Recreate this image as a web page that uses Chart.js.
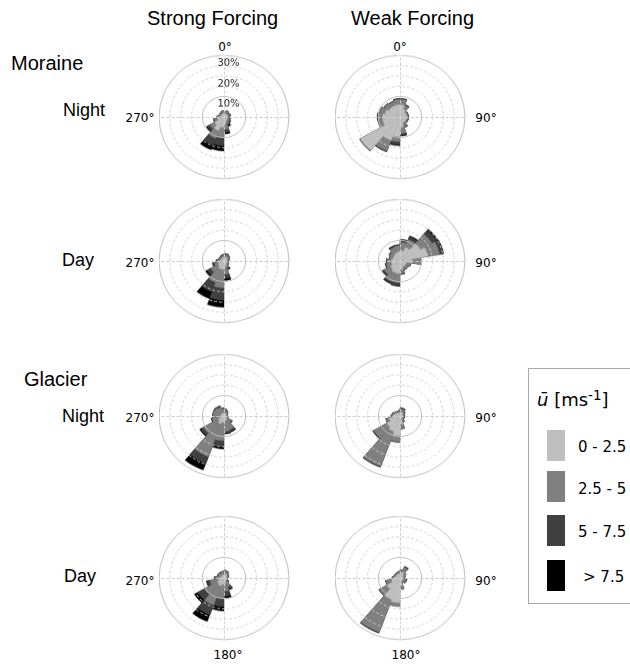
<!DOCTYPE html>
<html><head><meta charset="utf-8">
<script src="https://cdn.jsdelivr.net/npm/chart.js@4.4.0/dist/chart.umd.min.js"></script>
<style>
html,body{margin:0;padding:0;background:#fff}
body{width:630px;height:667px;position:relative;overflow:hidden;font-family:"Liberation Sans",Arial,sans-serif;color:#000}
.t{position:absolute;white-space:nowrap;line-height:1}
.deg{position:absolute;white-space:nowrap;font-family:"DejaVu Sans";font-size:12px;line-height:1;transform:translate(-50%,-50%)}
.rose{position:absolute;width:131px;height:131px;transform-origin:65px 65px;transform:scaleY(0.949)}
.rose canvas{display:block}
#legend{position:absolute;left:528px;top:368px;width:120px;height:236px;border:1px solid #aaa;box-sizing:border-box}
.sw{position:absolute;left:547px;width:18px;height:31px}
.lg{position:absolute;white-space:nowrap;font-family:"DejaVu Sans";font-size:15px;line-height:1;transform:translateY(-50%)}
</style>
</head><body>
<div class="t" style="left:147px;top:8px;font-size:20px">Strong Forcing</div>
<div class="t" style="left:351px;top:8px;font-size:20px">Weak Forcing</div>
<div class="t" style="left:11px;top:53px;font-size:20px">Moraine</div>
<div class="t" style="left:24px;top:369px;font-size:20px">Glacier</div>
<div class="t" style="left:63px;top:101px;font-size:18px">Night</div>
<div class="t" style="left:62px;top:251px;font-size:18px">Day</div>
<div class="t" style="left:62px;top:407px;font-size:18px">Night</div>
<div class="t" style="left:64px;top:567px;font-size:18px">Day</div>

<div class="rose" style="left:159px;top:52px"><canvas id="c0" width="131" height="131"></canvas></div>
<div class="rose" style="left:335px;top:52px"><canvas id="c1" width="131" height="131"></canvas></div>
<div class="rose" style="left:159px;top:196px"><canvas id="c2" width="131" height="131"></canvas></div>
<div class="rose" style="left:335px;top:196px"><canvas id="c3" width="131" height="131"></canvas></div>
<div class="rose" style="left:159px;top:351px"><canvas id="c4" width="131" height="131"></canvas></div>
<div class="rose" style="left:335px;top:351px"><canvas id="c5" width="131" height="131"></canvas></div>
<div class="rose" style="left:159px;top:513px"><canvas id="c6" width="131" height="131"></canvas></div>
<div class="rose" style="left:335px;top:513px"><canvas id="c7" width="131" height="131"></canvas></div>

<div class="deg" style="left:225px;top:47px">0°</div>
<div class="deg" style="left:400px;top:47px">0°</div>
<div class="deg" style="left:140px;top:118px">270°</div>
<div class="deg" style="left:140px;top:263px">270°</div>
<div class="deg" style="left:140px;top:418px">270°</div>
<div class="deg" style="left:140px;top:581px">270°</div>
<div class="deg" style="left:486px;top:118px">90°</div>
<div class="deg" style="left:486px;top:263px">90°</div>
<div class="deg" style="left:486px;top:418px">90°</div>
<div class="deg" style="left:486px;top:581px">90°</div>
<div class="deg" style="left:228px;top:655px">180°</div>
<div class="deg" style="left:406px;top:655px">180°</div>

<div id="legend"></div>
<div class="t" style="left:537px;top:391px;font-family:'DejaVu Sans';font-size:18px"><i>ū</i> [ms<span style="position:relative;top:-0.42em;font-size:0.75em">-1</span>]</div>
<div id="legendItems"></div>

<script>
// sector start angles (deg, clockwise from north), 20-degree bins
const sectorStarts = [0,20,40,60,80,100,120,140,160,180,200,220,240,260,280,300,320,340];
const speedClasses = ['0 - 2.5','2.5 - 5','5 - 7.5','> 7.5'];
const ringTicks = [10,20,30];

// frequency (%) per sector for each speed class
const moraineNightStrong_0 = [1.5,1.8,1.5,1.8,1.5,1.5,1.8,2.0,3.0,5.0,7.0,5.0,3.0,2.0,1.5,1.5,1.5,1.8];
const moraineNightStrong_1 = [1.0,1.2,1.0,1.0,0.8,1.0,1.2,1.5,3.0,5.0,4.0,2.5,1.5,1.0,0.8,0.8,1.0,1.0];
const moraineNightStrong_2 = [0.3,0.3,0.3,0.4,0.3,0.5,0.5,1.0,1.5,4.0,3.5,1.5,0.5,0.3,0.2,0.2,0.3,0.3];
const moraineNightStrong_3 = [0,0,0,0,0,0,0.2,0.5,0.8,2.5,2.5,0.5,0,0,0,0,0,0];

const moraineNightWeak_0 = [6.0,4.0,3.0,3.0,3.0,3.0,3.0,3.0,5.0,9.5,12.0,21.0,8.0,8.0,7.0,6.0,6.0,6.0];
const moraineNightWeak_1 = [2.5,2.0,0.8,0.8,0.8,0.8,0.8,2.0,3.0,2.5,5.5,0.5,2.0,2.0,2.5,2.5,2.0,2.5];
const moraineNightWeak_2 = [0.5,0.5,0.2,0.2,0.2,0.2,0.2,0.5,1.0,1.5,0.5,0,0.3,0.5,0.5,0.3,0.3,0.5];
const moraineNightWeak_3 = [0,0,0,0,0,0,0,0,0.3,0.5,0,0,0,0,0,0,0,0];

const moraineDayStrong_0 = [2.0,2.0,1.8,1.5,1.2,1.2,1.5,2.0,2.5,4.0,4.0,3.0,2.5,2.0,1.5,1.5,1.5,1.8];
const moraineDayStrong_1 = [1.2,1.2,1.0,0.8,0.6,0.6,0.8,1.5,4.0,9.0,7.0,4.0,2.0,1.2,1.0,0.8,1.0,1.0];
const moraineDayStrong_2 = [0.5,0.5,0.4,0.3,0.2,0.2,0.3,0.8,2.0,6.0,5.0,2.0,0.8,0.5,0.3,0.3,0.4,0.4];
const moraineDayStrong_3 = [0,0,0,0,0,0,0,0.3,1.0,3.5,3.5,1.0,0.2,0,0,0,0,0];

const moraineDayWeak_0 = [5.0,7.0,11.0,13.0,5.5,3.0,3.0,3.0,4.0,6.0,6.0,5.0,4.0,4.0,3.5,3.5,4.0,4.5];
const moraineDayWeak_1 = [4.0,4.0,6.0,5.5,4.5,2.0,1.5,1.5,2.0,4.5,4.5,3.5,2.5,2.0,1.5,2.0,3.0,3.0];
const moraineDayWeak_2 = [1.5,1.5,2.5,1.5,0,0.2,0.2,0.3,0.5,1.5,1.0,0.8,0.5,0.3,0.2,0.5,1.0,0.5];
const moraineDayWeak_3 = [0,0.5,0.8,0.5,0,0,0,0,0,0.3,0.3,0.2,0,0,0,0,0,0];

const glacierNightStrong_0 = [1.5,1.5,1.2,1.0,1.0,1.0,1.5,2.0,2.5,3.0,4.0,3.0,2.0,1.5,1.5,1.5,1.5,1.5];
const glacierNightStrong_1 = [1.5,1.2,0.8,0.6,0.6,0.8,2.5,5.0,5.0,9.0,17.0,8.0,3.5,3.5,3.5,3.5,3.0,2.0];
const glacierNightStrong_2 = [0.5,0.3,0.2,0.1,0.1,0.2,0.5,1.2,1.0,3.0,3.5,1.5,0.5,0.3,0.3,0.5,0.8,0.5];
const glacierNightStrong_3 = [0,0,0,0,0,0,0,0.3,0.3,1.0,3.5,0.5,0,0,0,0,0,0];

const glacierNightWeak_0 = [2.0,2.0,1.5,1.2,1.2,1.2,1.2,1.5,4.0,9.5,8.0,7.0,5.0,3.0,2.5,2.0,1.5,1.5];
const glacierNightWeak_1 = [1.5,1.5,1.0,0.8,0.8,0.8,0.8,1.5,2.0,3.0,18.0,7.0,1.5,1.0,1.0,0.8,0.8,1.0];
const glacierNightWeak_2 = [0.5,0.5,0.3,0.2,0.2,0.2,0.2,0.3,0.3,0.3,0.5,0.5,0.2,0.2,0.2,0.2,0.2,0.3];
const glacierNightWeak_3 = [0,0,0,0,0,0,0,0,0,0,0,0,0,0,0,0,0,0];

const glacierDayStrong_0 = [2.0,2.0,1.5,1.2,1.0,1.0,1.2,1.5,2.5,3.0,4.0,3.5,2.5,2.0,1.5,1.5,1.5,1.5];
const glacierDayStrong_1 = [1.5,1.2,1.0,0.8,0.6,0.6,1.0,3.0,4.0,7.0,10.0,7.0,4.0,2.0,1.5,1.5,1.5,1.5];
const glacierDayStrong_2 = [0.3,0.3,0.2,0.2,0.1,0.1,0.5,1.5,2.5,4.0,5.0,3.5,1.5,0.5,0.3,0.3,0.3,0.3];
const glacierDayStrong_3 = [0,0,0,0,0,0,0,0.3,1.0,2.0,3.5,1.8,0.3,0,0,0,0,0];

const glacierDayWeak_0 = [2.5,3.0,2.0,1.5,1.2,1.5,1.5,1.5,3.5,12.0,11.0,7.0,4.0,2.5,2.0,2.0,2.0,2.0];
const glacierDayWeak_1 = [1.2,2.5,1.0,0.8,0.8,1.5,1.5,1.0,1.8,1.8,17.0,4.0,2.5,1.0,0.8,0.8,0.8,1.0];
const glacierDayWeak_2 = [0.3,0.5,0.3,0.2,0.2,0.3,0.3,0.2,0.2,0,0.5,0.3,0.3,0.2,0.2,0.2,0.2,0.2];
const glacierDayWeak_3 = [0,0,0,0,0,0,0,0,0,0,0,0,0,0,0,0,0,0];

const classColors = ['#bfbfbf','#808080','#404040','#000000'];

const panels = [
  {id:'c0', cls:[moraineNightStrong_0,moraineNightStrong_1,moraineNightStrong_2,moraineNightStrong_3], pct:true},
  {id:'c1', cls:[moraineNightWeak_0,moraineNightWeak_1,moraineNightWeak_2,moraineNightWeak_3]},
  {id:'c2', cls:[moraineDayStrong_0,moraineDayStrong_1,moraineDayStrong_2,moraineDayStrong_3]},
  {id:'c3', cls:[moraineDayWeak_0,moraineDayWeak_1,moraineDayWeak_2,moraineDayWeak_3]},
  {id:'c4', cls:[glacierNightStrong_0,glacierNightStrong_1,glacierNightStrong_2,glacierNightStrong_3]},
  {id:'c5', cls:[glacierNightWeak_0,glacierNightWeak_1,glacierNightWeak_2,glacierNightWeak_3]},
  {id:'c6', cls:[glacierDayStrong_0,glacierDayStrong_1,glacierDayStrong_2,glacierDayStrong_3]},
  {id:'c7', cls:[glacierDayWeak_0,glacierDayWeak_1,glacierDayWeak_2,glacierDayWeak_3]}
];

function cumulative(cls){
  const out = [];
  let run = cls[0].map(()=>0);
  cls.forEach(a => { run = run.map((v,i)=>v + a[i]); out.push(run.slice()); });
  return out;
}

const roseDecor = {
  id:'roseDecor',
  afterDraw(chart, args, opts){
    const s = chart.scales.r, c = chart.ctx;
    c.save();
    c.strokeStyle = '#cdcdcd'; c.lineWidth = 1; c.setLineDash([3,2]);
    for (let k = 0; k < 4; k++){
      const a = k*Math.PI/2 - Math.PI/2;
      c.beginPath();
      c.moveTo(s.xCenter + 0.5, s.yCenter + 0.5);
      c.lineTo(s.xCenter + 0.5 + Math.cos(a)*s.drawingArea, s.yCenter + 0.5 + Math.sin(a)*s.drawingArea);
      c.stroke();
    }
    c.restore();
    if (opts.pct){
      c.save();
      c.fillStyle = '#222'; c.font = '10px "DejaVu Sans"';
      c.textAlign = 'center'; c.textBaseline = 'middle';
      ringTicks.forEach(v => c.fillText(v + '%', s.xCenter + 4.5, s.yCenter - s.getDistanceFromCenterForValue(v) + 8.5));
      c.restore();
    }
  }
};

const solid = v => v === 10 || v === 30;

panels.forEach(p => {
  const cum = cumulative(p.cls);
  const datasets = cum.map((d,k) => ({
    label: speedClasses[k], data: d,
    backgroundColor: classColors[k], borderColor: classColors[k], borderWidth: 0.4
  }));
  new Chart(document.getElementById(p.id), {
    type:'polarArea',
    data:{labels: sectorStarts.map(a => a + '°'), datasets},
    options:{
      responsive:false, animation:false, devicePixelRatio:1,
      layout:{padding:0},
      plugins:{legend:{display:false}, tooltip:{enabled:false}, roseDecor:{pct:!!p.pct}},
      scales:{r:{
        min:0, max:30, startAngle:0,
        ticks:{display:false, stepSize:5},
        pointLabels:{display:false},
        angleLines:{display:false},
        grid:{z:1, circular:true,
          color: c => solid(c.tick.value) ? '#bdbdbd' : '#d0d0d0',
          lineWidth: c => c.tick.value === 5 ? 0 : 1},
        border:{dash: c => solid(c.tick.value) ? [] : [3,2]}
      }}
    },
    plugins:[roseDecor]
  });
});

// legend
const legendTops = [430,471,515,560];
const legendTextY = [447,489,532,577];
const li = document.getElementById('legendItems');
speedClasses.forEach((lab,k) => {
  const sw = document.createElement('div');
  sw.className = 'sw'; sw.style.top = legendTops[k] + 'px'; sw.style.background = classColors[k];
  li.appendChild(sw);
  const tx = document.createElement('div');
  tx.className = 'lg'; tx.textContent = lab;
  tx.style.left = (k === 3 ? 583 : 578) + 'px'; tx.style.top = legendTextY[k] + 'px';
  li.appendChild(tx);
});
</script>
</body></html>
